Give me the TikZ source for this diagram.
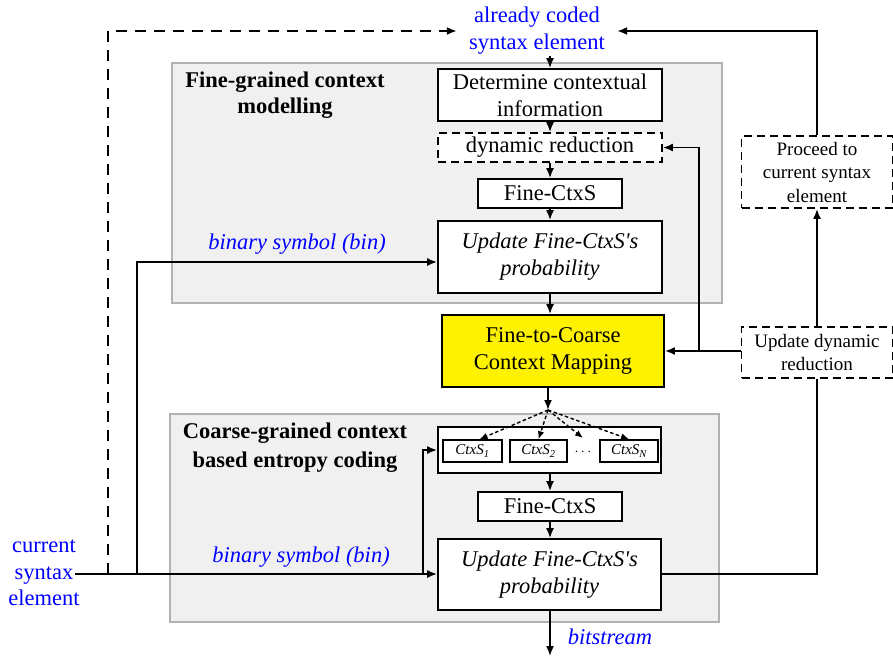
\documentclass[tikz,border=0pt]{standalone}
\usepackage{fontspec}
\setmainfont{Liberation Serif}
\usetikzlibrary{arrows.meta}
\begin{document}
\begin{tikzpicture}[x=1pt,y=-1pt,
  every node/.style={font=\fontsize{22.5}{27}\selectfont, inner sep=0pt, align=center},
  box/.style={draw, line width=1.8pt, fill=white},
  dbox/.style={box, dash pattern=on 8pt off 5pt},
  greybox/.style={draw=gray!60, fill=gray!12, line width=1.6pt},
  arr/.style={-{Latex[length=10pt,width=8pt]}, line width=1.7pt},
  ln/.style={line width=1.7pt},
  dline/.style={arr, dash pattern=on 11pt off 8pt},
  sarr/.style={-{Latex[length=8pt,width=6.5pt]}, line width=1.4pt, dash pattern=on 3.5pt off 2.5pt},
  lbl/.style={text=blue, font=\fontsize{22.5}{27}\selectfont\itshape},
  small/.style={font=\fontsize{19}{23.5}\selectfont},
  tiny/.style={font=\fontsize{15}{18}\selectfont\itshape, box, line width=1.5pt}
]
\useasboundingbox (0,0) rectangle (893,656);

% grey containers
\node[greybox, minimum width=550, minimum height=240] (g1) at (447,183) {};
\node[greybox, minimum width=549, minimum height=208] (g2) at (444.5,518) {};

% headings
\node[font=\fontsize{22.5}{26}\selectfont\bfseries] (h1) at (285,95) {Fine-grained context\\modelling};
\node[font=\fontsize{22.5}{29}\selectfont\bfseries] (h2) at (295,448) {Coarse-grained context\\based entropy coding};

% top section
\node[box, minimum width=224, minimum height=52] (det) at (550,95) {Determine contextual\\information};
\node[dbox, minimum width=224, minimum height=29] (dyn) at (550,147.5) {dynamic reduction};
\node[box, minimum width=144, minimum height=29] (fine1) at (550,193.5) {Fine-CtxS};
\node[box, minimum width=224, minimum height=72, font=\fontsize{22.5}{27}\selectfont\itshape] (upd1) at (550,257) {Update Fine-CtxS\textquotesingle s\\probability};

% mapping
\node[box, fill=yellow, minimum width=222, minimum height=72] (map) at (553,351) {Fine-to-Coarse\\Context Mapping};

% coarse section
\node[box, minimum width=223, minimum height=46] (cont) at (549.5,450) {};
\node[tiny, minimum width=59, minimum height=22] (c1) at (472.5,451) {CtxS\textsubscript{1}};
\node[tiny, minimum width=57, minimum height=22] (c2) at (538.5,451) {CtxS\textsubscript{2}};
\node[font=\fontsize{15}{18}\selectfont] (dots) at (583,452) {$\cdots$};
\node[tiny, minimum width=58, minimum height=22] (cN) at (629,451) {CtxS\textsubscript{\textit{N}}};
\coordinate (split) at (548,410);
\node[box, minimum width=144, minimum height=29] (fine2) at (550,506.5) {Fine-CtxS};
\node[box, minimum width=223, minimum height=71, font=\fontsize{22.5}{27}\selectfont\itshape] (upd2) at (549.5,574.5) {Update Fine-CtxS\textquotesingle s\\probability};

% right side
\node[dbox, small, minimum width=151, minimum height=51] (udr) at (817,352.5) {Update dynamic\\reduction};
\node[dbox, small, minimum width=151, minimum height=72] (proc) at (817,172) {Proceed to\\current syntax\\element};

% texts
\node[text=blue, minimum width=160, minimum height=50] (ac) at (537,31) {already coded\\syntax element};
\node[text=blue, font=\fontsize{22.5}{26.5}\selectfont] (cur) at (44,573) {current\\syntax\\element};
\node[lbl] (bin1) at (297,244) {binary symbol (bin)};
\node[lbl] (bin2) at (301,557) {binary symbol (bin)};
\node[lbl] (bsl) at (610,637) {bitstream};

% junctions
\coordinate (j1) at (108,574);
\coordinate (j2) at (137,574);
\coordinate (j3) at (423,574);
\coordinate (b1) at (699,351);
\coordinate (bs) at (550,656);

% connectors top section
\draw[arr] (ac.south -| det.north) -- (det.north);
\draw[arr] (det.south) -- (dyn.north);
\draw[arr] (dyn.south) -- (fine1.north);
\draw[arr] (fine1.south) -- (upd1.north);
\draw[arr] (upd1.south) -- (upd1.south |- map.north);
\draw[arr] (map.south -| split) -- (split);
\draw[sarr] (split) -- ([xshift=7pt]c1.north);
\draw[sarr] (split) -- (c2.north);
\draw[sarr] (split) -- ([yshift=14pt]dots.center);
\draw[sarr] (split) -- (cN.north);
\draw[arr] (cont.south -| fine2.north) -- (fine2.north);
\draw[arr] (fine2.south) -- (fine2.south |- upd2.north);
\draw[arr] (upd2.south -| bs) -- (bs);

% input lines
\draw[arr] ([xshift=-5pt]cur.east |- j1) -- (j1) -- (upd2.west |- j1);
\draw[dline] (j1) |- (ac.west);
\draw[arr] (j2) |- ([yshift=-5pt]upd1.west);
\draw[arr] (j3) |- (cont.west);

% feedback lines
\draw[ln] (upd2.east |- j1) -| (udr.south);
\draw[arr] (udr.north) -- (proc.south);
\draw[arr] (proc.north) |- (ac.east);
\draw[arr] (udr.west |- b1) -- (map.east |- b1);
\draw[arr] (b1) |- (dyn.east);
\end{tikzpicture}
\end{document}
